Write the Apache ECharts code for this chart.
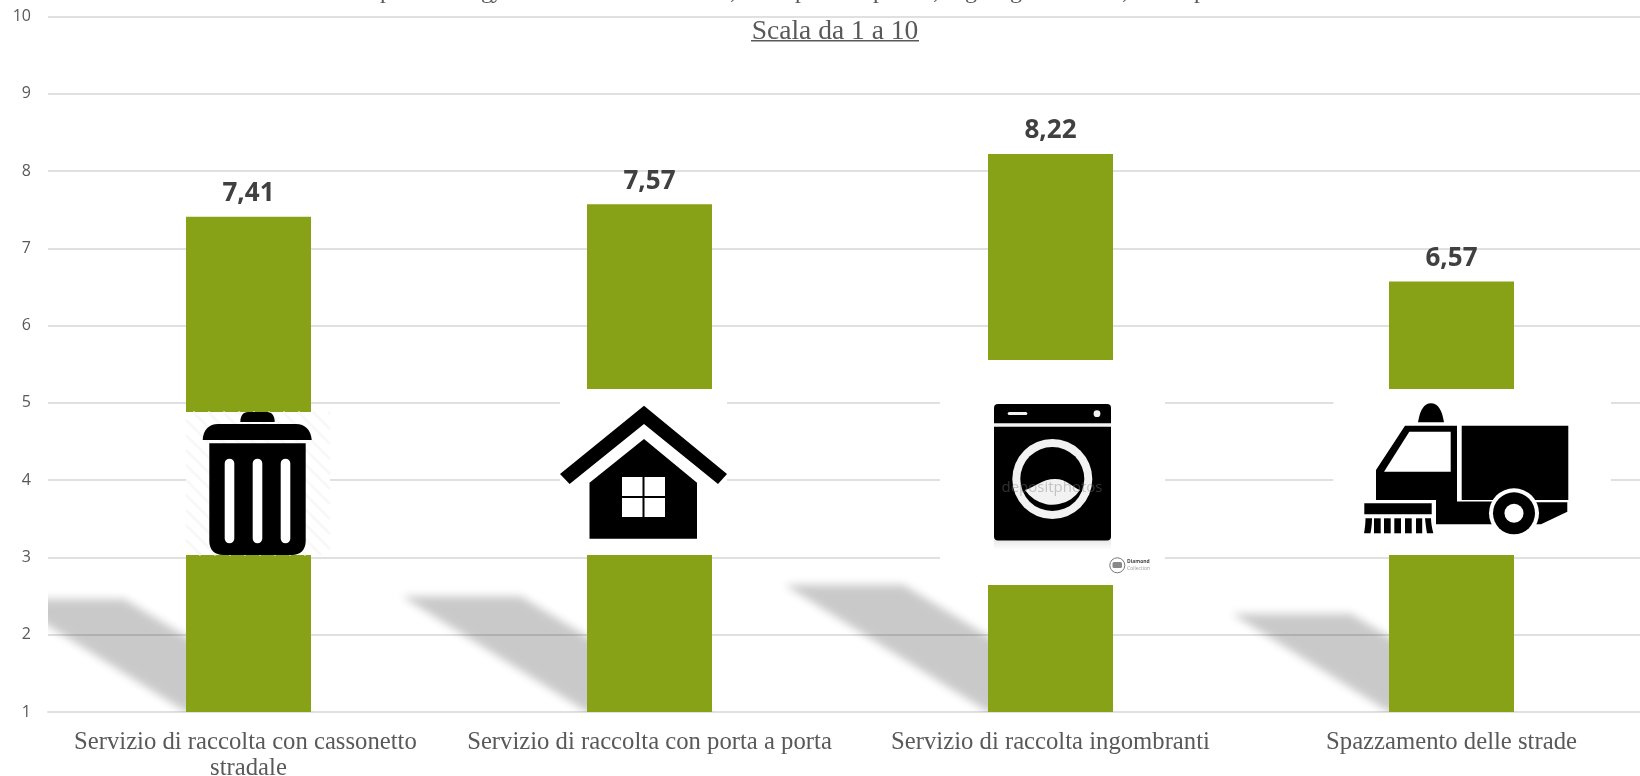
<!DOCTYPE html>
<html>
<head>
<meta charset="utf-8">
<title>Scala da 1 a 10</title>
<script src="https://cdn.jsdelivr.net/npm/echarts@6/dist/echarts.min.js"></script>
<style>
  html, body { margin: 0; padding: 0; background: #fff; }
  #chart { width: 1640px; height: 776px; }
</style>
</head>
<body>
<div id="chart"></div>
<script>
const categories = [
  'Servizio di raccolta con cassonetto stradale',
  'Servizio di raccolta con porta a porta',
  'Servizio di raccolta ingombranti',
  'Spazzamento delle strade'
];
const punteggi = [7.41, 7.57, 8.22, 6.57];
const yTicks = [1, 2, 3, 4, 5, 6, 7, 8, 9, 10];
const sottotitolo = 'Scala da 1 a 10';

const serif = '"Liberation Serif", serif';
const sans = '"Open Sans", sans-serif';
const grigio = '#595959';
const verde = '#87a216';
const nero = '#000';

// pezzi in pixel delle immagini incollate sopra il grafico
const path = (d, fill) => ({ type: 'path', shape: { pathData: d }, style: { fill: fill || nero } });
const rect = (x, y, w, h, fill, r) => ({ type: 'rect', shape: { x, y, width: w, height: h, r: r || 0 }, style: { fill } });
const circle = (cx, cy, r, fill) => ({ type: 'circle', shape: { cx, cy, r }, style: { fill } });
const txt = (x, y, text, font, fill, align, vAlign) => ({
  type: 'text', x, y,
  style: { text, font, fill, align: align || 'left', verticalAlign: vAlign || 'middle' }
});

// righe diagonali chiare dietro il cestino
function tratteggio(x0, y0, w, h, passo) {
  let d = '';
  for (let k = -h; k < w; k += passo) {
    const xa = Math.max(k, 0), xb = Math.min(k + h, w);
    d += 'M' + (x0 + xa) + ' ' + (y0 + xa - k) + 'L' + (x0 + xb) + ' ' + (y0 + xb - k);
  }
  return { type: 'path', shape: { pathData: d }, style: { fill: null, stroke: '#f8f8f8', lineWidth: 3 } };
}

const cestino = [
  rect(186, 412, 144, 143, '#fff'),
  tratteggio(186, 412, 144, 143, 15),
  path('M240.3 422C240.3 416 243 412 248 412H267C272 412 274.7 416 274.7 422Z'),
  path('M202.7 440C203 430 209 424 218 424H296C305 424 311 430 311.7 440Z'),
  path('M209.3 443.3H305.7V541C305.7 550 300 555 292 555H223C215 555 209.3 550 209.3 541Z'),
  rect(224.7, 458.7, 9.6, 84.6, '#fff', 4.8),
  rect(252.7, 458.7, 9.6, 84.6, '#fff', 4.8),
  rect(280.7, 458.7, 9.6, 84.6, '#fff', 4.8)
];

const casa = [
  rect(560, 389, 167, 166, '#fff'),
  path('M644 405.7L727 474L718 484L644 424L569.6 484L560 474Z'),
  path('M644 439L697 482.7V538.7H589.5V482.7Z'),
  rect(622, 477, 20.5, 19, '#fff'),
  rect(644.5, 477, 20.5, 19, '#fff'),
  rect(622, 498, 20.5, 19, '#fff'),
  rect(644.5, 498, 20.5, 19, '#fff')
];

const lavatrice = [
  rect(940, 360, 225, 225, '#fff'),
  {
    type: 'rect', shape: { x: 994, y: 540, width: 117, height: 10 },
    style: {
      fill: { type: 'linear', x: 0, y: 0, x2: 0, y2: 1, colorStops: [{ offset: 0, color: '#e8e8e8' }, { offset: 1, color: '#fff' }] }
    }
  },
  rect(994, 404, 117, 136.5, nero, 4),
  rect(994, 423.3, 117, 3.4, '#f2f2f2'),
  rect(1007.7, 412, 19.6, 3, '#f2f2f2', 1.5),
  circle(1097, 413.7, 3.4, '#f2f2f2'),
  circle(1052.3, 479, 40, '#f2f2f2'),
  circle(1052.3, 479, 32, nero),
  path('M1025 490C1035 487 1042 479 1055 479C1067 479 1072 487 1080 490A33 33 0 0 1 1025 490Z', '#f2f2f2'),
  txt(1052, 488, 'depositphotos', '15px ' + sans, 'rgba(125,125,125,0.4)', 'center'),
  { type: 'circle', shape: { cx: 1117.3, cy: 565.3, r: 7.5 }, style: { fill: null, stroke: '#777', lineWidth: 1 } },
  rect(1112.5, 562, 9.5, 6, '#888', 1.5),
  txt(1127, 562, 'Diamond', 'bold 5px ' + sans, '#444'),
  txt(1127, 569, 'Collection', '5px ' + sans, '#999')
];

const spazzatrice = [
  rect(1333.5, 389, 277.5, 166, '#fff'),
  path('M1418 422.3C1420 410 1424 403.3 1431 403.3C1438 403.3 1442 410 1444 422.3Z'),
  path('M1405 425.7H1457V501.5H1500V524.3H1436V500H1376V470Z'),
  path('M1409.3 431.7H1450.7V471.7H1384Z', '#fff'),
  path('M1461.7 425.7H1568.3V500H1461.7Z'),
  path('M1530 502.3H1567.3V511.7L1541 524.3H1530Z'),
  circle(1514, 513.3, 25, '#fff'),
  circle(1514, 513.3, 21, nero),
  circle(1514, 513.3, 9.5, '#fff'),
  rect(1364.3, 503.3, 67.4, 11, nero),
  path('M1364 533.3C1365 528 1365.5 523 1365.5 518.3H1372C1372 523 1371.5 528 1370.5 533.3Z'),
  rect(1374, 518.3, 6.7, 15, nero),
  rect(1384, 518.3, 6.7, 15, nero),
  rect(1394.3, 518.3, 6.7, 15, nero),
  rect(1405, 518.3, 6.7, 15, nero),
  rect(1416, 518.3, 6.2, 15, nero),
  path('M1425 518.3H1431C1431 523 1432 528 1433.3 533.3H1427C1426 528 1425.5 523 1425 518.3Z')
];

// frammento della riga tagliata in alto: si vede solo la parte sotto la linea di base
const rigaTagliata = [
  [380, 'p'], [481, 'g'], [491, 'y'], [730, ','], [795, 'p'], [873, 'p'],
  [933, ','], [965, 'g'], [1010, 'g'], [1122, ','], [1194, 'p']
].map(p => txt(p[0], 3.5, p[1], '24px ' + serif, grigio, 'left', 'bottom'));

const titolo = [
  txt(835, 32, sottotitolo, '27.5px ' + serif, grigio, 'center'),
  rect(751, 40, 168, 1.4, grigio)
];

const chart = echarts.init(document.getElementById('chart'), null, { renderer: 'canvas' });

chart.setOption({
  animation: false,
  backgroundColor: '#fff',
  grid: { left: 48, top: 16.5, width: 1604, height: 695.5, containLabel: false, outerBoundsMode: 'none' },
  xAxis: {
    type: 'category',
    data: categories,
    axisTick: { show: false },
    axisLine: { lineStyle: { color: '#e0e0e0', width: 2 } },
    axisLabel: {
      color: grigio,
      fontFamily: serif,
      fontSize: 24.7,
      lineHeight: 26,
      margin: 17.5,
      width: 385,
      overflow: 'break',
      interval: 0
    }
  },
  yAxis: {
    type: 'value',
    min: yTicks[0],
    max: yTicks[yTicks.length - 1],
    interval: 1,
    axisLine: { show: false },
    axisTick: { show: false },
    axisLabel: { color: grigio, fontFamily: sans, fontSize: 16, margin: 17 },
    splitLine: { lineStyle: { color: '#e0e0e0', width: 2 } }
  },
  series: [
    {
      // ombra proiettata dalle barre, dipende dall'altezza della barra
      type: 'custom',
      z: 1,
      silent: true,
      data: punteggi.map((v, i) => [i, v]),
      encode: { x: 0, y: 1 },
      renderItem: (params, api) => {
        const base = api.coord([api.value(0), yTicks[0]]);
        const top = api.coord([api.value(0), api.value(1)]);
        const h = (base[1] - top[1]) * 0.228;
        const dx = h * 1.6;
        const off = 3000;
        const l = base[0] - 62.5, r = base[0] + 62.5;
        return {
          type: 'polygon',
          shape: {
            points: [
              [l - off, base[1]], [r - off, base[1]],
              [r - dx - 6 - off, base[1] - h], [l - dx - off, base[1] - h]
            ]
          },
          clipPath: {
            type: 'rect',
            shape: { x: params.coordSys.x, y: params.coordSys.y, width: params.coordSys.width, height: params.coordSys.height }
          },
          style: {
            fill: '#000',
            shadowColor: 'rgba(0,0,0,0.21)',
            shadowBlur: 9,
            shadowOffsetX: off
          }
        };
      }
    },
    {
      type: 'bar',
      z: 2,
      data: punteggi,
      barWidth: 125,
      itemStyle: { color: verde },
      label: {
        show: true,
        position: 'top',
        distance: 10,
        color: '#404040',
        fontFamily: sans,
        fontWeight: 'bold',
        fontSize: 26,
        formatter: p => p.value.toFixed(2).replace('.', ',')
      }
    },
    {
      // immagini e testi sopra le barre
      type: 'custom',
      z: 20,
      silent: true,
      data: [[0, yTicks[0]]],
      encode: { x: 0, y: 1 },
      renderItem: () => ({
        type: 'group',
        children: [...cestino, ...casa, ...lavatrice, ...spazzatrice, ...rigaTagliata, ...titolo]
      })
    }
  ]
});
</script>
</body>
</html>
